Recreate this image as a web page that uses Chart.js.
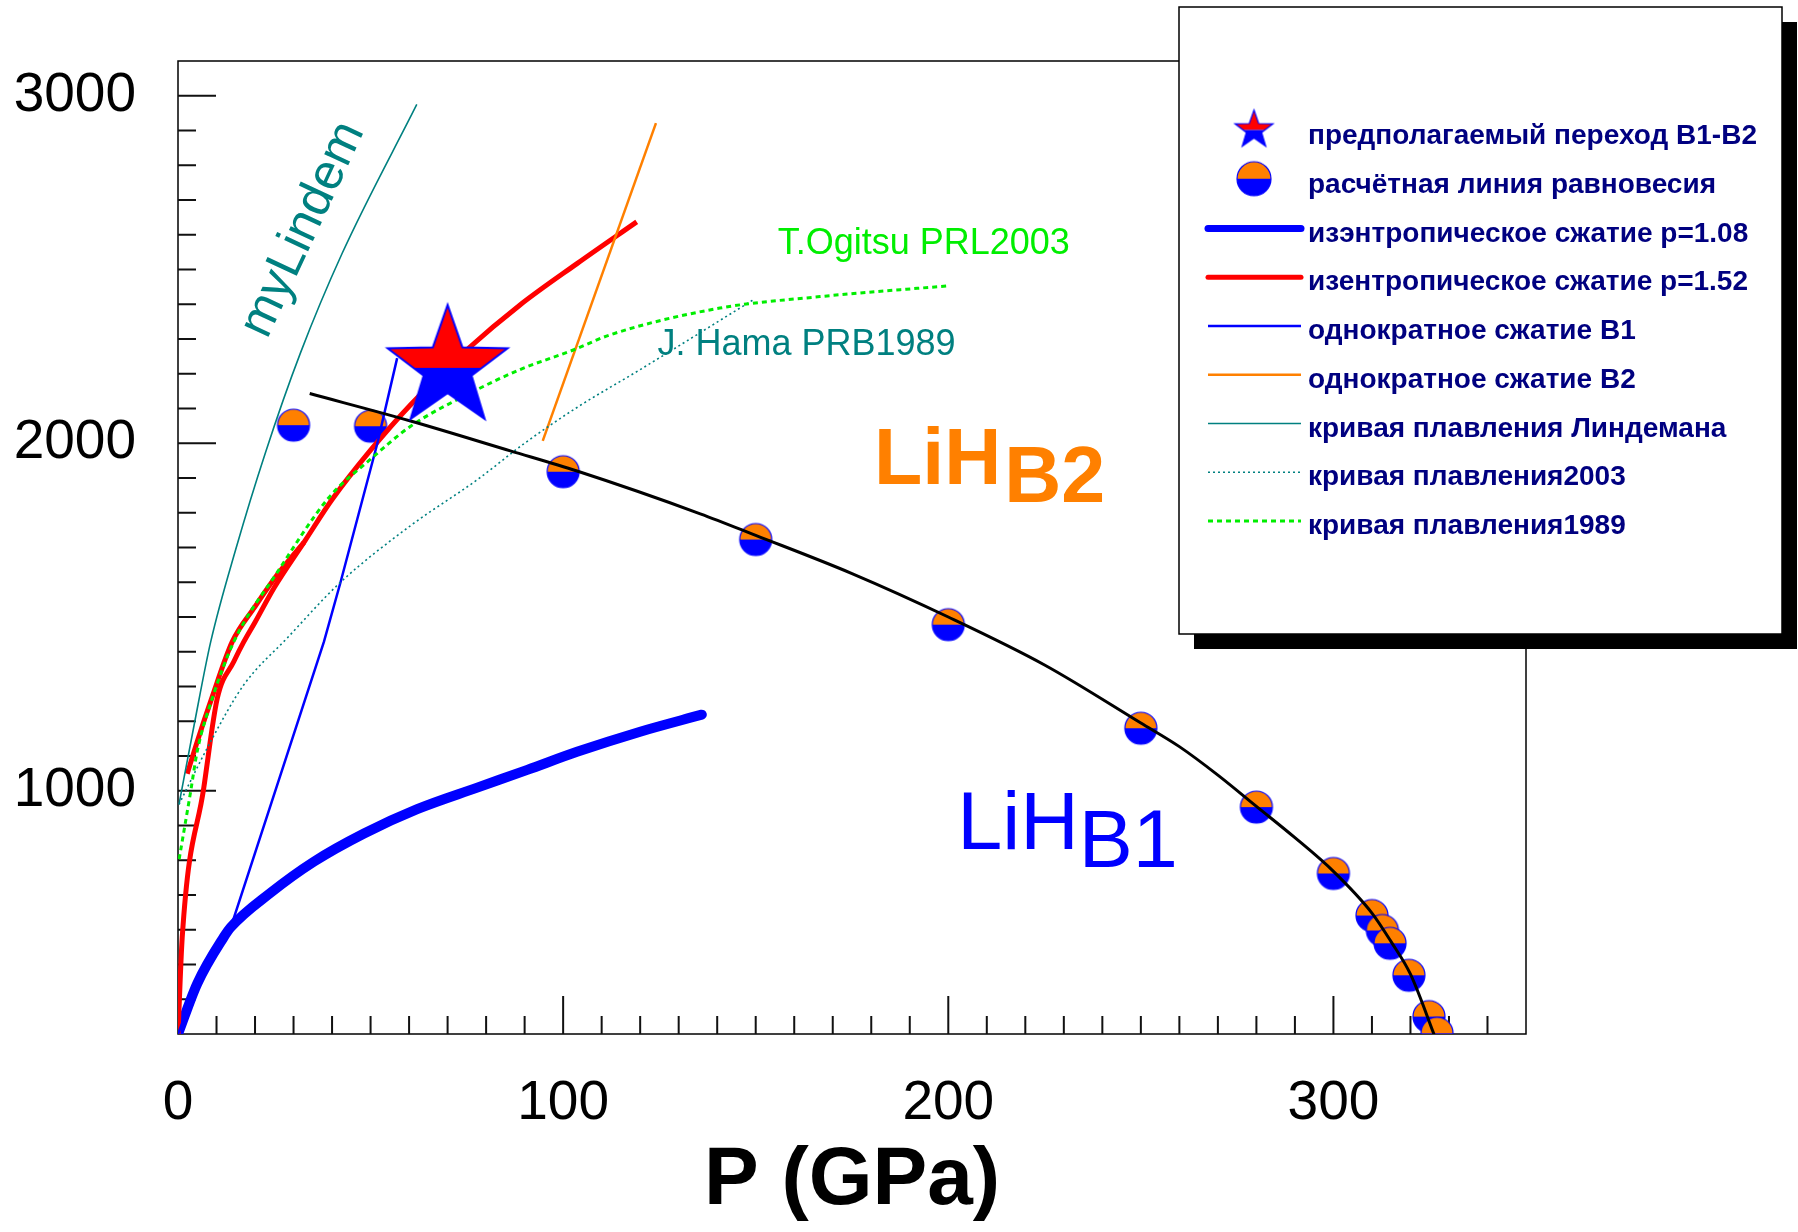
<!DOCTYPE html>
<html lang="ru">
<head>
<meta charset="UTF-8">
<title>LiH: фазовая диаграмма B1-B2</title>
<style>
  html, body { margin: 0; padding: 0; background: #fff; }
  .canvas_box { width: 1798px; height: 1232px; }
</style>
<script src="https://cdn.jsdelivr.net/npm/chart.js@4.4.6/dist/chart.umd.min.js"></script>
</head>
<body>
<div class="canvas_box">
  <canvas id="myChart" width="1798" height="1232"></canvas>
</div>
<script>
// ---- data: P in GPa, T in K ----
const xTickVals = [0, 100, 200, 300];
const yTickVals = [1000, 2000, 3000];

// assumed B1-B2 transition point
const starP = [70];
const starT = [2217];

// computed equilibrium points
const eqP = [30, 50, 100, 150, 200, 250, 280, 300, 310, 312.7, 314.7, 319.6, 324.8, 326.9];
const eqT = [2052, 2049, 1918, 1723, 1478, 1180, 953, 762, 641, 598, 561, 469, 350, 302];

// fitted equilibrium line (black)
const fitP = [34.2, 60.4, 86.3, 103.6, 135.6, 150, 175, 200, 225, 250, 260, 270, 280, 290, 300, 310, 315, 320, 326.6];
const fitT = [2143, 2064, 1978, 1920, 1797, 1735, 1625, 1500, 1362, 1195, 1127, 1045, 955, 865, 768, 648, 565, 472, 285];

// isentrope rho=1.08
const isoBlueP = [0, 5, 11.9, 13.7, 24, 35.3, 48.3, 62.1, 77.7, 90.7, 103.6, 120, 136];
const isoBlueT = [300, 445, 579, 607, 706, 796, 877, 947, 1009, 1060, 1112, 1170, 1219];

// isentrope rho=1.52, main branch and short branch
const isoRedP = [0, 1.1, 6.7, 10.2, 14.5, 17.1, 20, 25, 33, 40, 50, 60.4, 75, 88.8, 103.6, 119.1];
const isoRedT = [300, 579, 1009, 1266, 1372, 1429, 1485, 1585, 1720, 1838, 1980, 2111, 2269, 2398, 2517, 2637];
const isoRed2P = [2.4, 5, 8.9, 14.1, 20, 26, 32.7];
const isoRed2T = [1049, 1142, 1271, 1429, 1530, 1625, 1715];

// single compression B1 / B2
const hugB1P = [0, 5, 11.9, 13.7, 37.9, 42.2, 51.7, 56.9];
const hugB1T = [300, 445, 579, 607, 1429, 1600, 1997, 2245];
const hugB2P = [94.7, 124.1];
const hugB2T = [2007, 2921];

// melting curves
const meltLP = [0.26, 4.2, 8.5, 15, 22.7, 31.8, 42.6, 62];
const meltLT = [961, 1190, 1429, 1695, 1973, 2260, 2546, 2975];
const melt03P = [0.26, 8.5, 17.1, 28.4, 42.2, 60.4, 77.7, 90, 103.6, 120, 149.4];
const melt03T = [961, 1142, 1305, 1440, 1600, 1763, 1895, 2000, 2103, 2212, 2413];
const melt89P = [0.3, 3.3, 5, 8.9, 14.5, 25.8, 39.2, 50, 60.4, 76, 88.8, 102.8, 112.2, 140.7, 166.7, 200];
const melt89T = [803, 999, 1114, 1266, 1429, 1629, 1844, 1954, 2049, 2145, 2212, 2269, 2312, 2389, 2422, 2453];

const pts = (P, T) => P.map((p, i) => ({ x: p, y: T[i] }));

const ORANGE = '#ff8000', BLUE = '#0000ff', RED = '#ff0000', TEAL = '#008080', LIME = '#00ee00';
Chart.defaults.font.family = "'Liberation Sans', Arial, sans-serif";

// star marker: red upper half, blue lower half
function makeStar(R, lw) {
  const size = Math.ceil(2 * R + 2 * lw + 4);
  const c = document.createElement('canvas');
  c.width = c.height = size;
  const g = c.getContext('2d');
  const cx = size / 2, cy = size / 2, r = R * 0.4;
  g.beginPath();
  for (let i = 0; i < 10; i++) {
    const a = -Math.PI / 2 + i * Math.PI / 5;
    const rr = i % 2 ? r : R;
    g.lineTo(cx + rr * Math.cos(a), cy + rr * Math.sin(a));
  }
  g.closePath();
  g.save();
  g.clip();
  g.fillStyle = RED;
  g.fillRect(0, 0, size, cy);
  g.fillStyle = BLUE;
  g.fillRect(0, cy, size, size - cy);
  g.restore();
  g.lineWidth = lw;
  g.strokeStyle = BLUE;
  g.lineJoin = 'miter';
  g.stroke();
  return c;
}

// round marker: orange top, blue bottom
function makeDisc(r) {
  const size = Math.ceil(2 * r + 4);
  const c = document.createElement('canvas');
  c.width = c.height = size;
  const g = c.getContext('2d');
  const m = size / 2;
  g.fillStyle = ORANGE;
  g.beginPath(); g.arc(m, m, r, Math.PI, 2 * Math.PI); g.fill();
  g.fillStyle = BLUE;
  g.beginPath(); g.arc(m, m, r, 0, Math.PI); g.fill();
  g.lineWidth = 1.2;
  g.strokeStyle = BLUE;
  g.beginPath(); g.arc(m, m, r, 0, 2 * Math.PI); g.stroke();
  return c;
}

const starBig = makeStar(63, 2);
const starSmall = makeStar(20, 1.2);
const disc = makeDisc(16);
const discSmall = makeDisc(17);

// free text on the plot, anchored in data units
const curveNotes = [
  { text: 'myLindem', p: 32.5, t: 2615, color: TEAL, font: '50px "Liberation Sans"', angle: -65, align: 'center', baseline: 'middle' },
  { text: 'T.Ogitsu PRL2003', p: 155.7, t: 2546, color: LIME, font: '36px "Liberation Sans"' },
  { text: 'J. Hama PRB1989', p: 124.5, t: 2255, color: TEAL, font: '36px "Liberation Sans"' },
];
const phaseNotes = [
  { main: 'LiH', sub: 'B2', p: 180.7, t: 1882, color: ORANGE, font: 'bold 79px "Liberation Sans"', gap: 3, drop: 18 },
  { main: 'LiH', sub: 'B1', p: 202.3, t: 832, color: BLUE, font: '81px "Liberation Sans"', gap: 0, drop: 18 },
];

const legendBox = {
  left: 1179, top: 7, width: 603, height: 627, shadow: 15,
  firstRow: 135, rowStep: 48.75,
  iconX: 1254, lineFrom: 1208, lineTo: 1301, textX: 1308,
  font: 'bold 28px "Liberation Sans"', color: '#000080'
};

// frame round the plot and inward tick marks
const frameTicks = {
  id: 'frameTicks',
  beforeDatasetsDraw(chart) {
    const { ctx, chartArea: a, scales: { x, y } } = chart;
    ctx.save();
    ctx.strokeStyle = '#000';
    ctx.lineWidth = 1.5;
    ctx.strokeRect(a.left, a.top, a.right - a.left, a.bottom - a.top);
    ctx.lineWidth = 2;
    ctx.strokeStyle = '#111';
    ctx.beginPath();
    for (let v = 10; v < x.max; v += 10) {
      const px = x.getPixelForValue(v);
      const len = v % 100 === 0 ? 38 : 18;
      ctx.moveTo(px, a.bottom);
      ctx.lineTo(px, a.bottom - len);
    }
    for (let v = 400; v <= 3000; v += 100) {
      const py = y.getPixelForValue(v);
      const len = v % 1000 === 0 ? 38 : 18;
      ctx.moveTo(a.left, py);
      ctx.lineTo(a.left + len, py);
    }
    ctx.stroke();
    ctx.restore();
  }
};

const textNotes = {
  id: 'textNotes',
  afterDatasetsDraw(chart) {
    const { ctx, scales: { x, y } } = chart;
    curveNotes.forEach(n => {
      ctx.save();
      ctx.translate(x.getPixelForValue(n.p), y.getPixelForValue(n.t));
      ctx.rotate((n.angle || 0) * Math.PI / 180);
      ctx.font = n.font;
      ctx.fillStyle = n.color;
      ctx.textAlign = n.align || 'left';
      ctx.textBaseline = n.baseline || 'alphabetic';
      ctx.fillText(n.text, 0, 0);
      ctx.restore();
    });
    phaseNotes.forEach(n => {
      const px = x.getPixelForValue(n.p), py = y.getPixelForValue(n.t);
      ctx.save();
      ctx.font = n.font;
      ctx.fillStyle = n.color;
      ctx.textBaseline = 'alphabetic';
      ctx.fillText(n.main, px, py);
      const w = ctx.measureText(n.main).width;
      ctx.fillText(n.sub, px + w + n.gap, py + n.drop);
      ctx.restore();
    });
  }
};

// boxed legend with a drop shadow, top right
const boxLegend = {
  id: 'boxLegend',
  afterDraw(chart) {
    const ctx = chart.ctx, b = legendBox;
    ctx.save();
    ctx.fillStyle = '#000';
    ctx.fillRect(b.left + b.shadow, b.top + b.shadow, b.width, b.height);
    ctx.fillStyle = '#fff';
    ctx.fillRect(b.left, b.top, b.width, b.height);
    ctx.strokeStyle = '#000';
    ctx.lineWidth = 1.5;
    ctx.strokeRect(b.left, b.top, b.width, b.height);
    let row = 0;
    chart.data.datasets.forEach(ds => {
      if (!ds.label) return;
      const cy = b.firstRow + row * b.rowStep;
      if (ds.legendIcon) {
        const im = ds.legendIcon;
        ctx.drawImage(im, b.iconX - im.width / 2, cy - 5 - im.height / 2);
      } else {
        ctx.beginPath();
        ctx.setLineDash(ds.borderDash || []);
        ctx.lineWidth = Math.min(ds.borderWidth, 7);
        ctx.lineCap = ds.borderWidth > 3 ? 'round' : 'butt';
        ctx.strokeStyle = ds.borderColor;
        ctx.moveTo(b.lineFrom, cy - 4);
        ctx.lineTo(b.lineTo, cy - 4);
        ctx.stroke();
        ctx.setLineDash([]);
      }
      ctx.font = b.font;
      ctx.fillStyle = b.color;
      ctx.textBaseline = 'alphabetic';
      ctx.fillText(ds.label, b.textX, cy + 9);
      row++;
    });
    ctx.restore();
  }
};

const curve = (label, P, T, color, width, extra) => Object.assign({
  label, data: pts(P, T), borderColor: color, borderWidth: width,
  pointRadius: 0, fill: false, cubicInterpolationMode: 'monotone'
}, extra || {});

// lower "order" is drawn on top
const datasets = [
  { label: 'предполагаемый переход B1-B2', data: pts(starP, starT), showLine: false,
    pointStyle: starBig, pointRadius: 60, legendIcon: starSmall, order: 0 },
  { label: 'расчётная линия равновесия', data: pts(eqP, eqT), showLine: false,
    pointStyle: disc, pointRadius: 16, legendIcon: discSmall, order: 20 },
  curve('изэнтропическое сжатие p=1.08', isoBlueP, isoBlueT, BLUE, 10, { order: 12, borderCapStyle: 'round' }),
  curve('изентропическое сжатие p=1.52', isoRedP, isoRedT, RED, 5, { order: 10 }),
  curve('однократное сжатие B1', hugB1P, hugB1T, BLUE, 2.5, { order: 9, cubicInterpolationMode: 'default', tension: 0 }),
  curve('однократное сжатие B2', hugB2P, hugB2T, ORANGE, 2.5, { order: 8, cubicInterpolationMode: 'default', tension: 0 }),
  curve('кривая плавления Линдемана', meltLP, meltLT, TEAL, 1.6, { order: 7 }),
  curve('кривая плавления2003', melt03P, melt03T, TEAL, 1.6, { order: 6, borderDash: [2, 3] }),
  curve('кривая плавления1989', melt89P, melt89T, LIME, 3, { order: 5, borderDash: [5, 4] }),
  curve('', fitP, fitT, '#000', 3, { order: 1 }),
  curve('', isoRed2P, isoRed2T, RED, 5, { order: 11 }),
];

var ctx = document.getElementById('myChart');
var myChart = new Chart(ctx, {
  type: 'line',
  data: { datasets },
  options: {
    responsive: false,
    animation: false,
    events: [],
    layout: { padding: { top: 52, right: 272, left: 0, bottom: 0 } },
    plugins: {
      legend: { display: false },
      tooltip: { enabled: false },
    },
    scales: {
      x: {
        type: 'linear',
        min: 0,
        max: 350,
        afterBuildTicks: s => { s.ticks = xTickVals.map(v => ({ value: v })); },
        afterFit: s => { s.height = 198; s.paddingLeft = 0; s.paddingRight = 0; },
        grid: { display: false, drawTicks: false },
        border: { display: false },
        ticks: {
          autoSkip: false,
          maxRotation: 0,
          padding: 37,
          color: '#000',
          font: { size: 55 },
          callback: v => String(v),
        },
        title: {
          display: true,
          text: 'P (GPa)',
          color: '#000',
          padding: { top: 0, bottom: 1 },
          font: { size: 82, weight: 'bold' },
        },
      },
      y: {
        type: 'linear',
        min: 300,
        max: 3100,
        afterBuildTicks: s => { s.ticks = yTickVals.map(v => ({ value: v })); },
        afterFit: s => { s.width = 178; s.paddingTop = 0; s.paddingBottom = 0; },
        grid: { display: false, drawTicks: false },
        border: { display: false },
        ticks: {
          autoSkip: false,
          padding: 42,
          color: '#000',
          font: { size: 55 },
          callback: v => String(v),
        },
      },
    },
  },
  plugins: [frameTicks, textNotes, boxLegend],
});
</script>
</body>
</html>
